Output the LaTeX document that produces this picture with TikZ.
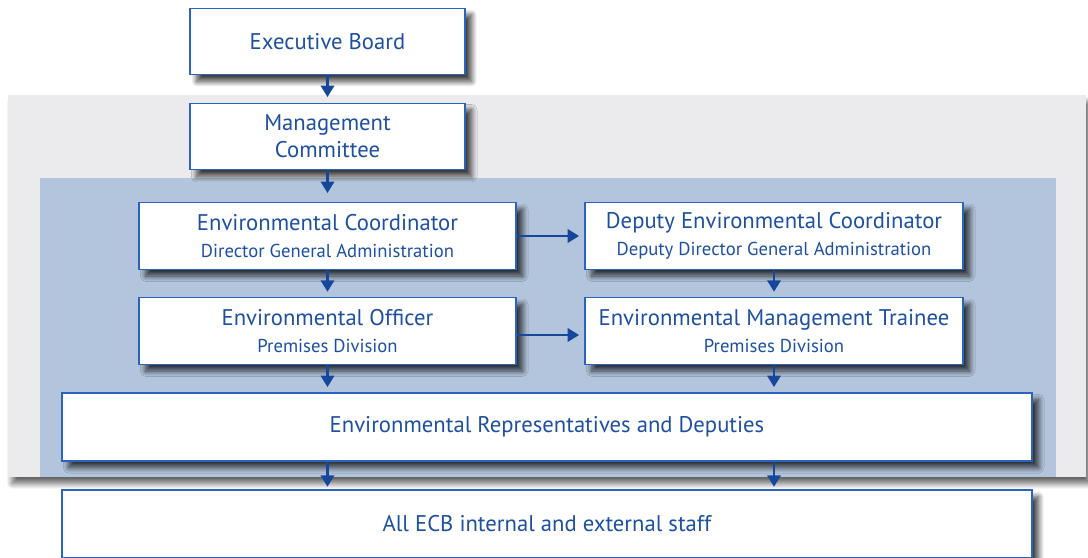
\documentclass[tikz,border=0pt]{standalone}
\usepackage{fontspec}
\setmainfont{PT Sans}
\usetikzlibrary{positioning, arrows.meta, shadows.blur}

\definecolor{ecbtext}{HTML}{1E50A0}
\definecolor{ecbline}{HTML}{2A64C0}
\definecolor{ecbarrow}{HTML}{17479A}
\definecolor{panelgrey}{HTML}{EBEBED}
\definecolor{panelblue}{HTML}{B3C5DC}

\tikzset{
    orgbox/.style={draw=ecbline, line width=0.9pt, fill=white, text=ecbtext,
        align=center, font=\fontsize{17}{20}\selectfont,
        minimum height=50pt, inner sep=0pt,
        blur shadow={shadow xshift=5pt, shadow yshift=-5pt, shadow blur steps=15,
            shadow blur radius=4pt, shadow opacity=75}},
    panel/.style={inner sep=0pt, draw=none},
    arr/.style={-{Triangle[length=8.5pt, width=10pt]}, draw=ecbarrow, line width=1.7pt}
}
\newcommand{\subline}[1]{{\fontsize{14}{17}\selectfont #1}}

\begin{document}
\begin{tikzpicture}[x=0.75pt, y=-0.75pt]
    \clip (0,0) rectangle (1088,557);
    \useasboundingbox (0,0) rectangle (1088,557);
    % Panels
    \node[panel, fill=panelgrey, minimum width=808.5pt, minimum height=286.5pt,
        blur shadow={shadow xshift=3pt, shadow yshift=-5pt, shadow blur steps=15,
            shadow blur radius=4pt, shadow opacity=60}]
        (grey) at (547,286) {};
    \node[panel, fill=panelblue, minimum width=762pt, minimum height=224.25pt] (blue) at (548,327.5) {};
    % Boxes
    \node[orgbox, minimum width=206.25pt] (exec) at (327.5,41.5) {Executive Board};
    \node[orgbox, minimum width=206.25pt] (mgmt) at (327.5,136.5) {Management\\Committee};
    \node[orgbox, minimum width=282.75pt] (coord) at (327.5,236)
        {Environmental Coordinator\\\subline{Director General Administration}};
    \node[orgbox, minimum width=283.5pt] (deputy) at (774,236)
        {Deputy Environmental Coordinator\\\subline{Deputy Director General Administration}};
    \node[orgbox, minimum width=282.75pt] (officer) at (327.5,331)
        {Environmental Officer\\\subline{Premises Division}};
    \node[orgbox, minimum width=283.5pt] (trainee) at (774,331)
        {Environmental Management Trainee\\\subline{Premises Division}};
    \node[orgbox, minimum width=727.5pt, minimum height=51pt] (reps) at (547,427)
        {Environmental Representatives and Deputies};
    \node[orgbox, minimum width=727.5pt, minimum height=51pt] (staff) at (547,524)
        {All ECB internal and external staff};
    % Arrows
    \coordinate (greytop) at (327.5,97);
    \coordinate (bluetop) at (327.5,193);
    \draw[arr] (exec) -- (greytop);
    \draw[arr] (mgmt) -- (bluetop);
    \draw[arr, shorten >=4pt] (coord) -- (deputy);
    \draw[arr, shorten >=4pt] (coord) -- (officer);
    \draw[arr, shorten >=4pt] (deputy) -- (trainee);
    \draw[arr, shorten >=4pt] ([yshift=-3pt]officer.east) -- ([yshift=-3pt]trainee.west);
    \draw[arr, shorten >=4pt] (officer) -- (officer |- reps.north);
    \draw[arr, shorten >=4pt] (trainee) -- (trainee |- reps.north);
    \draw[arr, shorten >=2pt] (reps.south -| officer) -- (officer |- staff.north);
    \draw[arr, shorten >=2pt] (reps.south -| trainee) -- (trainee |- staff.north);
\end{tikzpicture}
\end{document}
